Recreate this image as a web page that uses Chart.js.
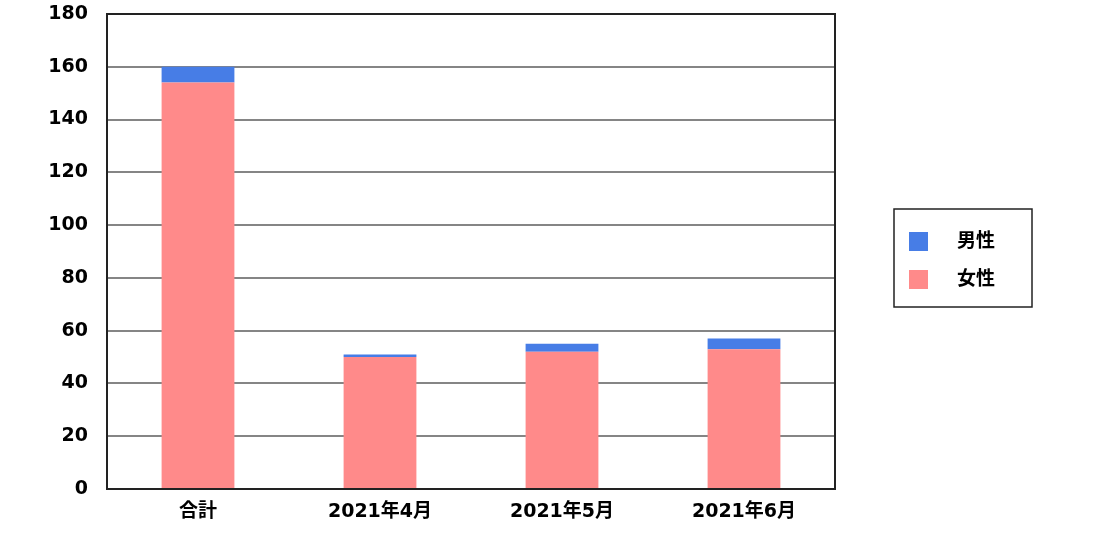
<!DOCTYPE html>
<html>
<head>
<meta charset="utf-8">
<script src="https://cdn.jsdelivr.net/npm/chart.js@4.4.1/dist/chart.umd.min.js"></script>
<style>
  html, body { margin: 0; padding: 0; background: #fff; }
  #wrap { width: 1117px; height: 547px; }
</style>
</head>
<body>
<div id="wrap"><canvas id="c" width="1117" height="547"></canvas></div>
<script>
const categories = ['合計', '2021年4月', '2021年5月', '2021年6月'];
const femaleValues = [154, 50, 52, 53];
const maleValues = [6, 1, 3, 4];
const seriesNames = { male: '男性', female: '女性' };
const yTicks = [0, 20, 40, 60, 80, 100, 120, 140, 160, 180];

const FONT = "'DejaVu Sans', 'Noto Sans CJK JP', sans-serif";
const maleColor = '#477de6';
const femaleColor = '#ff8a8a';

const frameAndLegend = {
  id: 'frameAndLegend',
  afterDraw(chart) {
    const ctx = chart.ctx;
    const a = chart.chartArea;
    ctx.save();
    ctx.strokeStyle = '#222';
    ctx.lineWidth = 2;
    ctx.strokeRect(a.left, a.top, a.right - a.left, a.bottom - a.top);
    const bx = 894, by = 209, bw = 138, bh = 98;
    ctx.lineWidth = 1.5;
    ctx.strokeRect(bx, by, bw, bh);
    const ds = chart.data.datasets.slice().reverse();
    ctx.font = 'bold 19px ' + FONT;
    ctx.textBaseline = 'middle';
    ctx.textAlign = 'left';
    ds.forEach((d, i) => {
      const y = 232 + i * 38;
      ctx.fillStyle = d.backgroundColor;
      ctx.fillRect(909, y, 19, 19);
      ctx.fillStyle = '#000';
      ctx.fillText(d.label, 957, y + 10);
    });
    ctx.restore();
  }
};

new Chart(document.getElementById('c'), {
  type: 'bar',
  data: {
    labels: categories,
    datasets: [
      { label: seriesNames.female, data: femaleValues, backgroundColor: femaleColor },
      { label: seriesNames.male, data: maleValues, backgroundColor: maleColor }
    ]
  },
  options: {
    responsive: false,
    animation: false,
    devicePixelRatio: 1,
    layout: { padding: { top: 14, right: 282, bottom: 0, left: 0 } },
    plugins: { legend: { display: false }, tooltip: { enabled: false } },
    datasets: { bar: { categoryPercentage: 1, barPercentage: 0.4 } },
    scales: {
      x: {
        stacked: true,
        grid: { display: false, drawTicks: false },
        border: { display: true, color: '#222', width: 2 },
        ticks: { color: '#000', font: { family: FONT, size: 19, weight: 'bold' }, padding: 12, maxRotation: 0 },
        afterFit(s) { s.height = 58; s.paddingLeft = 0; s.paddingRight = 0; }
      },
      y: {
        stacked: true,
        min: 0, max: 180,
        afterBuildTicks(s) { s.ticks = yTicks.map(v => ({ value: v })); },
        grid: { color: '#858585', lineWidth: 2, drawTicks: false },
        border: { display: true, color: '#222', width: 2 },
        ticks: { color: '#000', font: { family: FONT, size: 19, weight: 'bold' }, padding: 19 },
        afterFit(s) { s.width = 107; s.paddingTop = 0; s.paddingBottom = 0; }
      }
    }
  },
  plugins: [frameAndLegend]
});
</script>
</body>
</html>
